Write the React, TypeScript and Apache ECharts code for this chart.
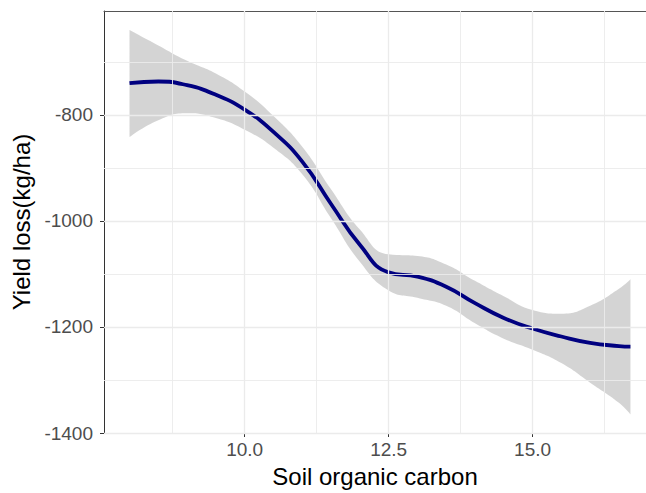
import React, { useEffect, useRef } from "react";
import * as echarts from "echarts";

// Soil organic carbon (x) sampled along the fitted smooth
const carbon = [8.0, 8.5, 9.0, 9.5, 10.0, 10.5, 11.0, 11.5, 12.0, 12.5, 13.0, 13.5, 14.0, 14.5, 15.0, 15.5, 16.0, 16.5, 16.7];
// Fitted yield loss (kg/ha)
const fitted = [-740, -737, -744, -762, -790, -832, -888, -968, -1045, -1097, -1105, -1124, -1155, -1183, -1203, -1218, -1230, -1236, -1237];
// 95% confidence band
const upper = [-640, -669, -698, -722, -756, -802, -860, -940, -1016, -1063, -1066, -1082, -1113, -1142, -1168, -1175, -1160, -1128, -1110];
const lower = [-842, -810, -797, -806, -828, -862, -912, -995, -1077, -1131, -1145, -1160, -1193, -1222, -1243, -1268, -1305, -1343, -1365];

const xTicks = [10, 12.5, 15];
const xMinor = [8.75, 11.25, 13.75, 16.25];
const yTicks = [-1400, -1200, -1000, -800];
const yMinor = [-1300, -1100, -900, -700];

const X_MIN = 7.557;
const X_MAX = 16.97;
const Y_MIN = -1400;
const Y_MAX = -604;

const FONT = "Liberation Sans, Arial, sans-serif";

export default function App() {
  const ref = useRef<HTMLDivElement>(null);

  useEffect(() => {
    document.body.style.margin = "0";
    const chart = echarts.init(ref.current!, null, { renderer: "svg" });

    const gridStyle = (w: number) => ({ color: "#ebebeb", width: w, type: "solid" as const });
    const gridLines = [
      ...xTicks.map((v) => ({ xAxis: v, lineStyle: gridStyle(1.3) })),
      ...xMinor.map((v) => ({ xAxis: v, lineStyle: gridStyle(0.9) })),
      ...yTicks.map((v) => ({ yAxis: v, lineStyle: gridStyle(1.3) })),
      ...yMinor.map((v) => ({ yAxis: v, lineStyle: gridStyle(0.9) })),
    ];

    const axisColor = "#333333";

    // band rows are [yield, carbon] so the stacked dimension is the yield value
    const lowerRows = carbon.map((x, i) => [lower[i], x]);
    const widthRows = carbon.map((x, i) => [upper[i] - lower[i], x]);

    const SMOOTH = 0.5;

    chart.setOption({
      animation: false,
      backgroundColor: "#ffffff",
      grid: { left: 104, right: 0, top: 11, bottom: 60 },
      xAxis: [
        {
          type: "value",
          min: X_MIN,
          max: X_MAX,
          name: "Soil organic carbon",
          nameLocation: "middle",
          nameGap: 31,
          nameTextStyle: { color: "#000000", fontSize: 24, fontFamily: FONT },
          axisLine: { show: true, onZero: false, lineStyle: { color: axisColor, width: 1 } },
          axisTick: { show: true, length: 4, customValues: xTicks, lineStyle: { color: axisColor } },
          axisLabel: {
            customValues: xTicks,
            formatter: (v: number) => v.toFixed(1),
            color: "#4d4d4d",
            fontSize: 19,
            margin: 7,
            fontFamily: FONT,
          },
          splitLine: { show: false },
        },
        {
          type: "value",
          position: "top",
          min: X_MIN,
          max: X_MAX,
          axisLine: { show: true, onZero: false, lineStyle: { color: "#555555", width: 1 } },
          axisTick: { show: false },
          axisLabel: { show: false },
          splitLine: { show: false },
        },
      ],
      yAxis: {
        type: "value",
        min: Y_MIN,
        max: Y_MAX,
        name: "Yield loss(kg/ha)",
        nameLocation: "middle",
        nameGap: 68,
        nameTextStyle: { color: "#000000", fontSize: 24, fontFamily: FONT },
        axisLine: { show: true, onZero: false, lineStyle: { color: axisColor, width: 1 } },
        axisTick: { show: true, length: 4, customValues: yTicks, lineStyle: { color: axisColor } },
        axisLabel: {
          customValues: yTicks,
          formatter: (v: number) => String(v),
          color: "#4d4d4d",
          fontSize: 19,
          margin: 11,
          fontFamily: FONT,
        },
        splitLine: { show: false },
      },
      series: [
        {
          name: "grid",
          type: "line",
          z: 1,
          data: [],
          silent: true,
          markLine: {
            silent: true,
            symbol: ["none", "none"],
            label: { show: false },
            emphasis: { disabled: true },
            data: gridLines,
          },
        },
        {
          name: "lower",
          type: "line",
          z: 2,
          stack: "ci",
          stackStrategy: "all",
          encode: { x: 1, y: 0 },
          smooth: SMOOTH,
          symbol: "none",
          lineStyle: { opacity: 0 },
          data: lowerRows,
        },
        {
          name: "band",
          type: "line",
          z: 2,
          stack: "ci",
          stackStrategy: "all",
          encode: { x: 1, y: 0 },
          smooth: SMOOTH,
          symbol: "none",
          lineStyle: { opacity: 0 },
          areaStyle: { color: "rgba(153,153,153,0.42)", opacity: 1 },
          data: widthRows,
        },
        {
          name: "fit",
          type: "line",
          z: 3,
          smooth: SMOOTH,
          symbol: "none",
          lineStyle: { color: "#000080", width: 3.8 },
          data: carbon.map((x, i) => [x, fitted[i]]),
        },
      ],
    });

    return () => chart.dispose();
  }, []);

  return <div ref={ref} style={{ width: 646, height: 493 }} />;
}
